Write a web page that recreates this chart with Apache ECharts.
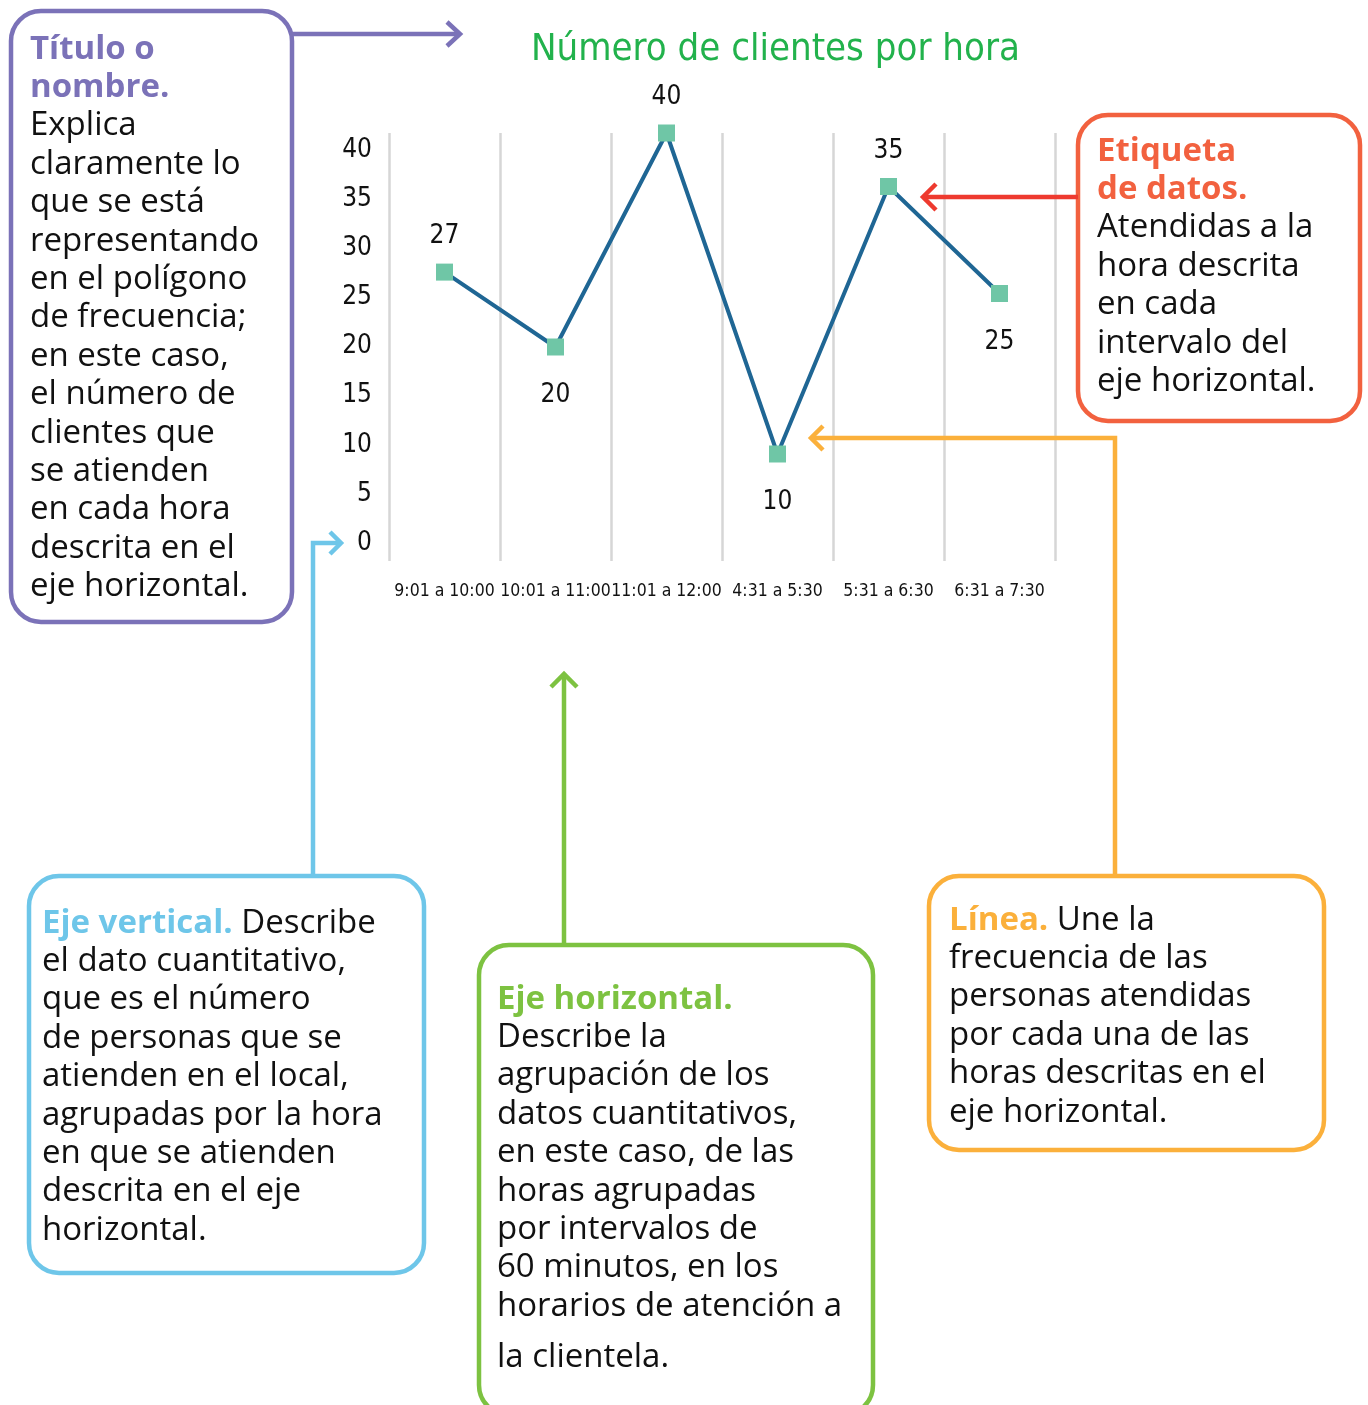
<!DOCTYPE html>
<html>
<head>
<meta charset="utf-8">
<script src="https://cdn.jsdelivr.net/npm/echarts@6/dist/echarts.min.js"></script>
<style>
  html, body { margin: 0; padding: 0; background: #fff; }
  #main { width: 1368px; height: 1405px; }
</style>
</head>
<body>
<div id="main"></div>
<script>
var horas = ['9:01 a 10:00', '10:01 a 11:00', '11:01 a 12:00', '4:31 a 5:30', '5:31 a 6:30', '6:31 a 7:30'];
var clientes = [27, 20, 40, 10, 35, 25];
var etiquetaArriba = [true, false, true, false, true, false];
var ticksY = [0, 5, 10, 15, 20, 25, 30, 35, 40];

var manoFont = "'DejaVu Sans Condensed', 'DejaVu Sans', sans-serif";
var textoFont = "'Open Sans', sans-serif";
var tamTexto = 33;

// puntos con etiqueta arriba o abajo
var puntos = clientes.map(function (v, i) {
  return {
    value: v,
    label: {
      position: etiquetaArriba[i] ? 'top' : 'bottom',
      distance: etiquetaArriba[i] ? 14 : 27
    }
  };
});

function caja(x, y, w, h, color) {
  return {
    type: 'rect',
    shape: { x: x, y: y, width: w, height: h, r: 30 },
    style: { fill: '#fff', stroke: color, lineWidth: 4.5 },
    z: 1
  };
}

function linea(puntosLinea, color) {
  return {
    type: 'polyline',
    shape: { points: puntosLinea },
    style: { stroke: color, lineWidth: 4.5, fill: null },
    z: 2
  };
}

function texto(x, y, txt, color, lh) {
  return {
    type: 'text',
    x: x,
    y: y,
    style: {
      text: txt,
      fontSize: tamTexto,
      fontFamily: textoFont,
      fill: '#111',
      lineHeight: lh || 38.4,
      verticalAlign: 'top',
      rich: {
        h: { fontSize: tamTexto, fontFamily: textoFont, fontWeight: 'bold', fill: color, lineHeight: lh || 38.4 }
      }
    },
    z: 3
  };
}

var morado = '#7b72b8', rojo = '#f2613f', flechaRoja = '#ee3a2f', amarillo = '#fbb03b', azul = '#6ec6e9', verde = '#7dc241';

var myChart = echarts.init(document.getElementById('main'));

var option = {
  backgroundColor: '#fff',
  animation: false,
  title: {
    text: 'Número de clientes por hora',
    left: 526,
    top: 26,
    textStyle: { fontFamily: manoFont, fontSize: 38, fontWeight: 'normal', color: '#22b24c' }
  },
  grid: [
    { left: 389, right: 313, top: 133, bottom: 844 },
    { left: 389, right: 313, top: 150, bottom: 862 }
  ],
  xAxis: [
    {
      type: 'category',
      gridIndex: 0,
      data: horas,
      boundaryGap: true,
      axisLine: { show: false },
      axisTick: { show: false },
      splitLine: { show: true, lineStyle: { color: '#d6d6d6', width: 2.5 } },
      axisLabel: { fontFamily: manoFont, fontSize: 17.5, color: '#111', margin: 21, interval: 0 }
    },
    { type: 'category', gridIndex: 1, data: horas, show: false }
  ],
  yAxis: [
    { type: 'value', gridIndex: 0, min: 0, max: 40, show: false },
    {
      type: 'value',
      gridIndex: 1,
      min: ticksY[0],
      max: ticksY[ticksY.length - 1],
      interval: 5,
      axisLine: { show: false },
      axisTick: { show: false },
      splitLine: { show: false },
      axisLabel: { fontFamily: manoFont, fontSize: 26, color: '#111', margin: 17 }
    }
  ],
  series: [
    {
      type: 'line',
      xAxisIndex: 0,
      yAxisIndex: 0,
      data: puntos,
      symbol: 'rect',
      symbolSize: 17,
      itemStyle: { color: '#6fc6a6' },
      lineStyle: { color: '#1f6694', width: 4 },
      label: { show: true, fontFamily: manoFont, fontSize: 26, color: '#111' },
      z: 5
    }
  ],
  graphic: [
    // Título o nombre
    caja(11, 11, 281, 611, morado),
    linea([[292, 34], [460, 34]], morado),
    linea([[447, 22], [460, 34], [447, 46]], morado),
    texto(30, 30, '{h|Título o}\n{h|nombre.}\nExplica\nclaramente lo\nque se está\nrepresentando\nen el polígono\nde frecuencia;\nen este caso,\nel número de\nclientes que\nse atienden\nen cada hora\ndescrita en el\neje horizontal.', morado),

    // Etiqueta de datos
    caja(1078, 115, 282, 306, rojo),
    linea([[1078, 197], [923, 197]], flechaRoja),
    linea([[936, 184], [923, 197], [936, 210]], flechaRoja),
    texto(1097, 132, '{h|Etiqueta}\n{h|de datos.}\nAtendidas a la\nhora descrita\nen cada\nintervalo del\neje horizontal.', rojo),

    // Línea
    caja(929, 876, 395, 274, amarillo),
    linea([[1115, 876], [1115, 438], [811, 438]], amarillo),
    linea([[823, 426], [811, 438], [823, 450]], amarillo),
    texto(949, 901, '{h|Línea.} Une la\nfrecuencia de las\npersonas atendidas\npor cada una de las\nhoras descritas en el\neje horizontal.', amarillo),

    // Eje vertical
    caja(29, 876, 395, 397, azul),
    linea([[313, 876], [313, 543], [341, 543]], azul),
    linea([[330, 532], [341, 543], [330, 554]], azul),
    texto(42, 904, '{h|Eje vertical.} Describe\nel dato cuantitativo,\nque es el número\nde personas que se\natienden en el local,\nagrupadas por la hora\nen que se atienden\ndescrita en el eje\nhorizontal.', azul),

    // Eje horizontal
    caja(479, 945, 394, 470, verde),
    linea([[564, 945], [564, 674]], verde),
    linea([[551, 687], [564, 674], [577, 687]], verde),
    texto(497, 980, '{h|Eje horizontal.}\nDescribe la\nagrupación de los\ndatos cuantitativos,\nen este caso, de las\nhoras agrupadas\npor intervalos de\n60 minutos, en los\nhorarios de atención a', verde),
    texto(497, 1338, 'la clientela.', verde)
  ]
};

myChart.setOption(option);
</script>
</body>
</html>
